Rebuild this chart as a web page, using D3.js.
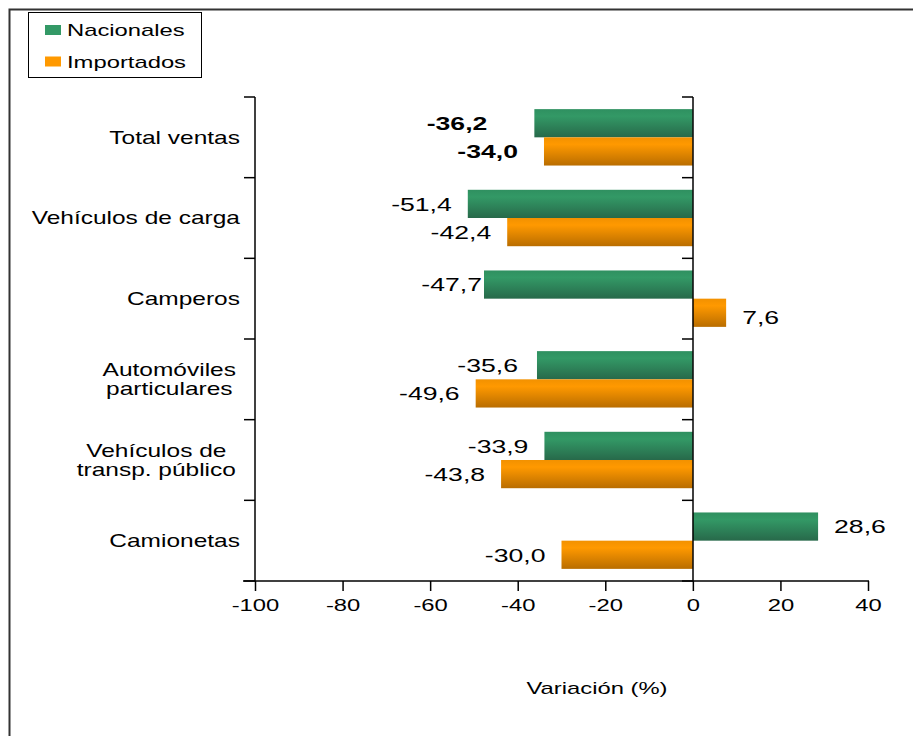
<!DOCTYPE html>
<html>
<head>
<meta charset="utf-8">
<script src="https://cdn.jsdelivr.net/npm/d3@7"></script>
<style>
  body { margin: 0; background: #fff; }
  text { font-family: "Liberation Sans", Arial, sans-serif; fill: #000; }
</style>
</head>
<body>
<div id="chart"></div>
<script>
categories = ["Total ventas", "Vehículos de carga", "Camperos", "Automóviles\nparticulares", "Vehículos de\ntransp. público", "Camionetas"]
seriesNames = ["Nacionales", "Importados"]
nacionales = [-36.2, -51.4, -47.7, -35.6, -33.9, 28.6]
importados = [-34.0, -42.4, 7.6, -49.6, -43.8, -30.0]
xTicks = [-100, -80, -60, -40, -20, 0, 20, 40]

// hand-moved labels in the original (px, + = towards the bar)
nudgeNac = [-31, 0, 14, -3, 0, 0]
nudgeImp = [-10, 0, 0, 0, 0, 0]

const W = 914, H = 736
const SX = 1.4 // the original picture is stretched sideways, text too
const fmt = v => d3.format(".1f")(v).replace(".", ",").replace("\u2212", "-")

const svg = d3.select("#chart").append("svg")
    .attr("width", W)
    .attr("height", H)

const defs = svg.append("defs")
function grad(id, stops) {
  const g = defs.append("linearGradient").attr("id", id)
    .attr("x1", 0).attr("y1", 0).attr("x2", 0).attr("y2", 1)
  stops.forEach(s => g.append("stop").attr("offset", s[0]).attr("stop-color", s[1]))
}
grad("gGreen", [[0, "#2f9060"], [0.25, "#339966"], [1, "#27694a"]])
grad("gOrange", [[0, "#f29100"], [0.25, "#ff9900"], [1, "#b96d00"]])
const fills = ["url(#gGreen)", "url(#gOrange)"]

// outer frame (only top and left visible)
svg.append("path")
    .attr("d", `M9.5,${H} V9.5 H${W - 1}`)
    .attr("fill", "none")
    .attr("stroke", "#333")
    .attr("stroke-width", 2)

const x = d3.scaleLinear().domain([-100, 40]).range([255, 868])
const y = d3.scaleBand().domain(categories).range([97, 581]).padding(0)
const ySub = d3.scaleBand().domain(seriesNames).range([0, y.bandwidth()]).paddingOuter(0.43).paddingInner(0)

function stext(sel, tx, ty) {
  return sel.attr("transform", `translate(${tx},${ty}) scale(${SX},1)`)
}

// bars
const rows = categories.map((c, i) => ({cat: c, i: i, vals: [nacionales[i], importados[i]]}))
const grp = svg.append("g").selectAll("g")
  .data(rows)
  .enter().append("g")
    .attr("transform", d => `translate(0,${y(d.cat)})`)

grp.selectAll("rect")
  .data(d => d.vals.map((v, k) => ({v: v, k: k, i: d.i})))
  .enter().append("rect")
    .attr("x", d => x(Math.min(0, d.v)))
    .attr("y", d => ySub(seriesNames[d.k]))
    .attr("width", d => Math.abs(x(d.v) - x(0)))
    .attr("height", ySub.bandwidth())
    .attr("fill", d => fills[d.k])

// value labels
grp.selectAll("text")
  .data(d => d.vals.map((v, k) => ({v: v, k: k, i: d.i})))
  .enter().append("text")
    .text(d => fmt(d.v))
    .attr("font-size", 19)
    .attr("font-weight", d => d.i === 0 ? "bold" : "normal")
    .attr("text-anchor", d => d.v < 0 ? "end" : "start")
    .attr("dy", "0.36em")
    .each(function (d) {
      const n = (d.k === 0 ? nudgeNac : nudgeImp)[d.i]
      const gap = 16 - n
      const tx = d.v < 0 ? x(d.v) - gap : x(d.v) + gap
      // the small positive label sits a bit lower in the original
      const ty = ySub(seriesNames[d.k]) + ySub.bandwidth() / 2 + (d.v > 0 && d.k === 1 ? 4 : 0)
      stext(d3.select(this), tx, ty)
    })

// axes
const axisColor = "#000"
const bounds = d3.range(categories.length + 1).map(i => 97 + i * y.step())
const yAxis = svg.append("g")
;[255, 693].forEach(ax => {
  yAxis.append("line")
      .attr("x1", ax).attr("x2", ax).attr("y1", 97).attr("y2", 581)
      .attr("stroke", axisColor).attr("stroke-width", 1.5)
  yAxis.selectAll(null).data(bounds).enter().append("line")
      .attr("x1", ax - 11).attr("x2", ax).attr("y1", d => d).attr("y2", d => d)
      .attr("stroke", axisColor).attr("stroke-width", 1.5)
})

const xAxis = svg.append("g")
    .attr("transform", "translate(0,581)")
    .call(d3.axisBottom(x).tickValues(xTicks).tickSize(10).tickPadding(8).tickFormat(d => String(d)))
xAxis.select(".domain").remove()
xAxis.append("line").attr("x1", 243).attr("x2", 869).attr("stroke", axisColor).attr("stroke-width", 1.5)
xAxis.selectAll(".tick line").attr("stroke", axisColor).attr("stroke-width", 1.5)
xAxis.selectAll(".tick text")
    .attr("font-size", 17).attr("font-family", null).attr("fill", "#000")
    .attr("transform", `scale(${SX},1)`)

// category labels
const catG = svg.append("g")
categories.forEach(c => {
  const lines = c.split("\n")
  const t = catG.append("text").attr("font-size", 17.5).attr("text-anchor", "middle")
  const cy = y(c) + y.bandwidth() / 2
  const lh = 19
  lines.forEach((l, j) => {
    t.append("tspan").attr("x", 0).attr("y", (j - (lines.length - 1) / 2) * lh).attr("dy", "0.36em").text(l)
  })
  let wmax = 0
  t.selectAll("tspan").each(function () { wmax = Math.max(wmax, this.getComputedTextLength()) })
  const right = lines.length > 1 ? 236 : 240
  stext(t, right - wmax * SX / 2, cy)
})

// axis title
stext(svg.append("text").attr("font-size", 17).attr("text-anchor", "middle").text("Variación (%)"), 597, 694)

// legend
const leg = svg.append("g")
leg.append("rect").attr("x", 28.5).attr("y", 12.5).attr("width", 173).attr("height", 65)
    .attr("fill", "#fff").attr("stroke", "#000").attr("stroke-width", 1)
seriesNames.forEach((s, k) => {
  const ly = 30 + k * 31.5
  leg.append("rect").attr("x", 45).attr("y", ly - 5).attr("width", 16).attr("height", 10)
      .attr("fill", k === 0 ? "#339966" : "#ff9900")
  stext(leg.append("text").attr("font-size", 17).attr("dy", "0.36em").text(s), 67, ly)
})
</script>
</body>
</html>
